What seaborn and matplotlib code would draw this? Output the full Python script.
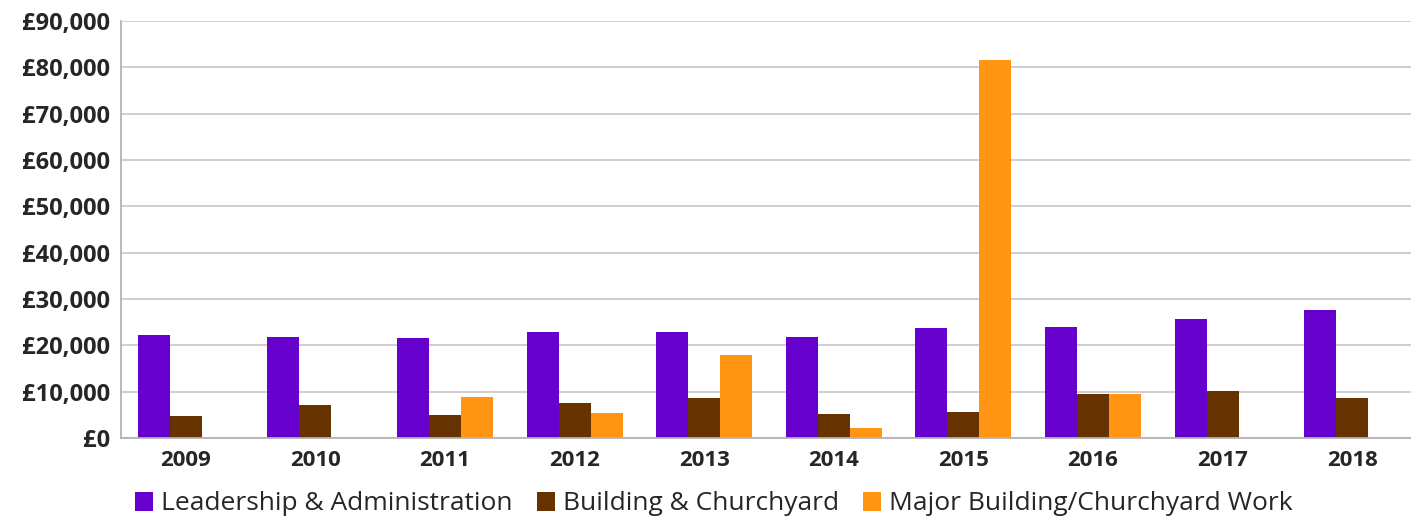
import matplotlib
matplotlib.use("Agg")
import matplotlib.pyplot as plt
import seaborn as sns
import pandas as pd
import numpy as np
from matplotlib.ticker import FuncFormatter, FixedLocator
from matplotlib.patches import Patch

years = ["2009", "2010", "2011", "2012", "2013", "2014", "2015", "2016", "2017", "2018"]
series_names = ["Leadership & Administration", "Building & Churchyard", "Major Building/Churchyard Work"]
leadership = [22300, 21900, 21600, 22800, 22900, 21700, 23700, 23900, 25700, 27600]
building = [4700, 7100, 5000, 7500, 8600, 5200, 5700, 9600, 10100, 8600]
major = [0, 0, 8800, 5500, 17900, 2100, 81500, 9500, 0, 0]
colors = ["#6600CC", "#663300", "#FF9512"]

rows = []
for name, vals in zip(series_names, [leadership, building, major]):
    for y, v in zip(years, vals):
        rows.append({"Year": y, "Series": name, "Value": v})
df = pd.DataFrame(rows)

sns.set_style("white")
plt.rcParams["font.family"] = ["Open Sans", "DejaVu Sans"]

fig = plt.figure(figsize=(14.11, 5.18), dpi=100)
ax = fig.add_axes([121/1411, 1 - 438/518, (1417 - 121)/1411, (438 - 21)/518])

sns.barplot(data=df, x="Year", y="Value", hue="Series", palette=colors,
            width=0.74, gap=0, saturation=1, ax=ax, legend=False,
            errorbar=None, linewidth=0)

ax.set_ylim(0, 90000)
ax.set_xlim(-0.5, len(years) - 0.5)
ax.yaxis.set_major_locator(FixedLocator(np.arange(0, 90001, 10000)))
ax.yaxis.set_major_formatter(FuncFormatter(lambda v, p: f"£{int(v):,}"))
ax.grid(axis="y", color="#cccccc", linewidth=1.3)
ax.set_axisbelow(True)
ax.set_xlabel("")
ax.set_ylabel("")

for s in ["top", "right"]:
    ax.spines[s].set_visible(False)
for s in ["left", "bottom"]:
    ax.spines[s].set_color("#b3b3b3")
    ax.spines[s].set_linewidth(1.3)

ax.tick_params(axis="y", which="major", length=5, color="#b3b3b3", width=1.3,
               labelsize=17, pad=3)
for lab in ax.get_yticklabels():
    lab.set_fontweight("bold")
ax.tick_params(axis="x", which="major", length=0, labelsize=16, pad=9)
for lab in ax.get_xticklabels():
    lab.set_fontweight("bold")
ax.set_xticks(np.arange(-0.5, len(years), 1.0), minor=True)
ax.tick_params(axis="x", which="minor", length=6, color="#b3b3b3", width=1.3)

handles = [Patch(facecolor=c, edgecolor="none") for c in colors]
fig.legend(handles, series_names, loc="center", bbox_to_anchor=(0.506, 1 - 504/518),
           ncol=3, frameon=False, fontsize=19, handlelength=0.7, handleheight=0.7,
           handletextpad=0.3, columnspacing=0.9)

fig.savefig("out.png", dpi=100)
